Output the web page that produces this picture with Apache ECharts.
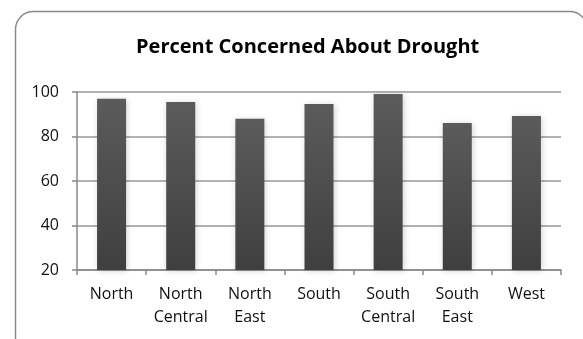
<!DOCTYPE html>
<html>
<head>
<meta charset="utf-8">
<script src="https://cdn.jsdelivr.net/npm/echarts@6/dist/echarts.min.js"></script>
<style>html,body{margin:0;padding:0;background:#fff}#c{width:583px;height:339px}</style>
</head>
<body>
<div id="c"></div>
<script>
const titleText = 'Percent Concerned About Drought';
const categories = ['North', 'North\nCentral', 'North\nEast', 'South', 'South\nCentral', 'South\nEast', 'West'];
const values = [97, 95.5, 88, 94.6, 99.1, 86.1, 89.2];
const yTicks = [20, 40, 60, 80, 100];

const chart = echarts.init(document.getElementById('c'), null, {renderer: 'canvas'});
chart.setOption({
  animation: false,
  backgroundColor: '#fff',
  graphic: [{
    type: 'rect', left: 13, top: 9,
    shape: {width: 572, height: 360, r: 18},
    style: {fill: 'none', stroke: '#8a8a8a', lineWidth: 1.5},
    silent: true
  }],
  title: {
    text: titleText, left: 131, top: 32,
    textStyle: {fontFamily: 'Open Sans', fontWeight: 'bold', fontSize: 20, color: '#000'}
  },
  grid: {left: 77, right: 22, top: 92, bottom: 69, containLabel: false},
  xAxis: {
    type: 'category', data: categories,
    axisLine: {lineStyle: {color: '#888', width: 1.5}},
    axisTick: {show: true, length: 5, alignWithLabel: false, lineStyle: {color: '#888', width: 1.5}},
    axisLabel: {fontFamily: 'Open Sans', fontSize: 16, color: '#111', lineHeight: 23, margin: 13, interval: 0}
  },
  yAxis: {
    type: 'value', min: yTicks[0], max: yTicks[yTicks.length - 1], interval: 20,
    axisLine: {show: true, lineStyle: {color: '#888', width: 1.5}},
    axisTick: {show: true, length: 5, lineStyle: {color: '#888', width: 1.5}},
    axisLabel: {fontFamily: 'Open Sans', fontSize: 16, color: '#111', margin: 18},
    splitLine: {lineStyle: {color: '#999', width: 1.5}}
  },
  series: [{
    type: 'bar', data: values, barWidth: 29,
    itemStyle: {
      color: new echarts.graphic.LinearGradient(0, 0, 0, 1, [
        {offset: 0, color: '#5b5b5b'}, {offset: 1, color: '#3f3f3f'}
      ]),
      shadowColor: 'rgba(0,0,0,0.18)', shadowBlur: 6, shadowOffsetX: 1, shadowOffsetY: 1
    }
  }]
});
</script>
</body>
</html>
